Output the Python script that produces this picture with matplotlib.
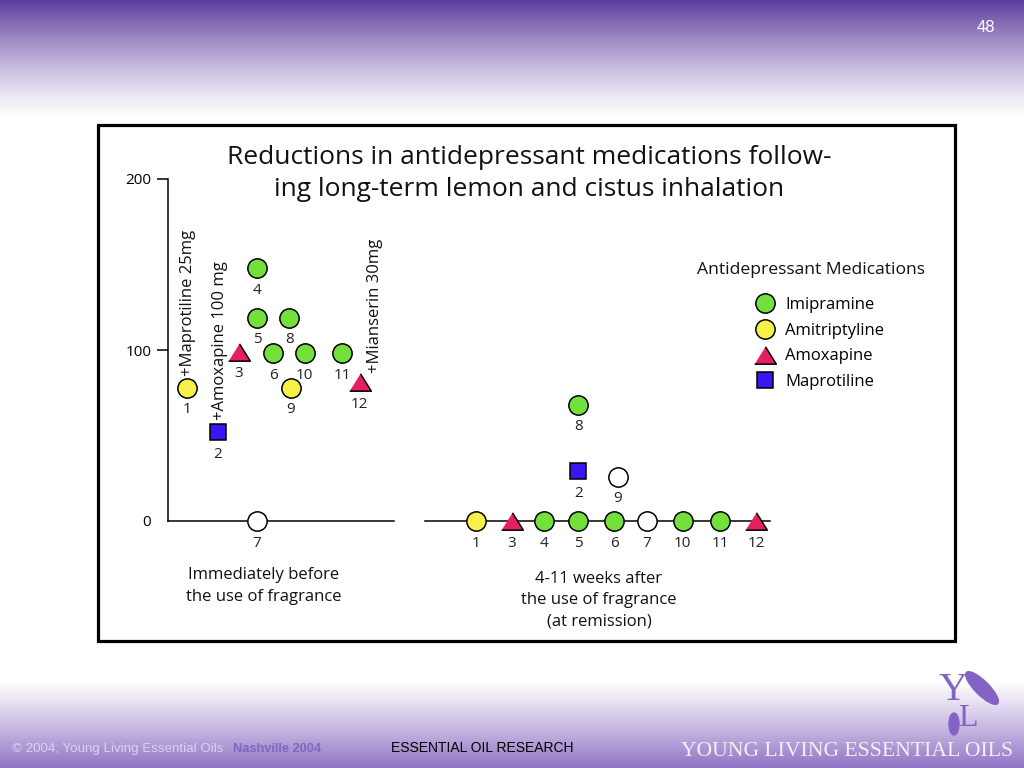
import matplotlib
matplotlib.use("Agg")
import matplotlib.pyplot as plt
import numpy as np
from matplotlib.lines import Line2D
from matplotlib.patches import Rectangle, Ellipse

plt.rcParams["font.family"] = ["Open Sans", "DejaVu Sans"]

W, H = 1024, 768

# patients 1..12, dose in mg, horizontal slot inside each panel
patients = [1, 2, 3, 4, 5, 6, 7, 8, 9, 10, 11, 12]
before_slot = [1.1, 2.9, 4.15, 5.2, 5.2, 6.15, 5.2, 7.1, 7.2, 8.0, 10.2, 11.2]
before_dose = [78, 52, 99, 148, 119, 98, 0, 119, 78, 98, 98, 81]
before_drug = ["Amitriptyline", "Maprotiline", "Amoxapine", "Imipramine", "Imipramine",
               "Imipramine", "none", "Imipramine", "Amitriptyline", "Imipramine",
               "Imipramine", "Amoxapine"]
after_slot = [18.0, 24.0, 20.1, 22.0, 24.0, 26.1, 28.0, 24.0, 26.3, 30.1, 32.3, 34.4]
after_dose = [0, 29, 0, 0, 0, 0, 0, 68, 26, 0, 0, 0]
after_drug = ["Amitriptyline", "Maprotiline", "Amoxapine", "Imipramine", "Imipramine",
              "Imipramine", "none", "Imipramine", "none", "Imipramine",
              "Imipramine", "Amoxapine"]

drug_names = ["Imipramine", "Amitriptyline", "Amoxapine", "Maprotiline"]
dose_ticks = [0, 100, 200]

add_on_notes = {1: "+Maprotiline 25mg", 2: "+Amoxapine 100 mg", 12: "+Mianserin 30mg"}

TRI = [(-1, -0.8), (1, -0.8), (0, 0.8)]
STYLE = {
    "Imipramine": dict(marker="o", mfc="#74e03c", ms=13.9),
    "Amitriptyline": dict(marker="o", mfc="#f8f04a", ms=13.9),
    "Amoxapine": dict(marker=TRI, mfc="#e4205e", ms=15.6),
    "Maprotiline": dict(marker="s", mfc="#3a16f2", ms=12.2),
    "none": dict(marker="o", mfc="white", ms=13.9),
}

PX_SLOT = 17.1   # px per slot unit
PX_MG = 1.71     # px per mg
X0, Y0 = 168, 521  # pixel origin of the chart

fig = plt.figure(figsize=(W / 100, H / 100), dpi=100)

# ---- slide background ----
bg = fig.add_axes([0, 0, 1, 1])
bg.set_xlim(0, W)
bg.set_ylim(H, 0)
bg.axis("off")
rows = np.arange(H)
top = np.clip(1 - rows / 120, 0, 1) ** 1.3
bot = np.clip((rows - 680) / 88, 0, 1) ** 1.1
purple_top = np.array([0.37, 0.24, 0.62])
purple_bot = np.array([0.56, 0.45, 0.77])
grad = 1 - top[:, None] * (1 - purple_top) - bot[:, None] * (1 - purple_bot)
grad = np.repeat(grad[:, None, :], 2, axis=1)
bg.imshow(grad, extent=(0, W, H, 0), aspect="auto", zorder=0)

bg.add_patch(Rectangle((98, 125), 857, 516, facecolor="white", edgecolor="black",
                       linewidth=2.3, zorder=1))

bg.text(986, 27, "48", color="white", fontsize=12, ha="center", va="center",
        family="Liberation Sans")
bg.text(12, 749, "\u00a9 2004, Young Living Essential Oils", color="#dcd2f0", fontsize=9.6,
        ha="left", va="center", family="Liberation Sans")
bg.text(233, 749, "Nashville 2004", color="#8066bd", fontsize=9.2, fontweight="bold",
        ha="left", va="center", family="Liberation Sans")
bg.text(482, 748, "ESSENTIAL OIL RESEARCH", color="black", fontsize=10,
        ha="center", va="center", family="Liberation Sans")
bg.text(847, 751, "YOUNG LIVING ESSENTIAL OILS", color="#f4effb", fontsize=15.6,
        ha="center", va="center", family="Liberation Serif")
# logo
bg.text(953, 690, "Y", color="#8463c4", fontsize=29, ha="center", va="center",
        family="Liberation Serif")
bg.text(968, 718, "L", color="#8463c4", fontsize=23, ha="center", va="center",
        family="Liberation Serif")
bg.add_patch(Ellipse((982, 688), 14, 44, angle=-45, color="#8463c4", zorder=2))
bg.add_patch(Ellipse((954, 724), 10, 22, angle=0, color="#8463c4", zorder=2))

# ---- chart ----
ax = fig.add_axes([100 / W, (H - 636) / H, 853 / W, 506 / H])
ax.patch.set_alpha(0)
ax.set_xlim((100 - X0) / PX_SLOT, (953 - X0) / PX_SLOT)
ax.set_ylim((Y0 - 636) / PX_MG, (Y0 - 130) / PX_MG)
for side in ["top", "right", "bottom"]:
    ax.spines[side].set_visible(False)
ax.spines["left"].set_position(("data", 0))
ax.spines["left"].set_bounds(0, 200)
ax.spines["left"].set_linewidth(1.1)
ax.set_xticks([])
ax.set_yticks(dose_ticks)
ax.set_yticklabels([str(t) for t in dose_ticks], fontsize=11)
ax.tick_params(axis="y", direction="out", length=8, width=1.1, pad=4)
ax.yaxis.get_major_ticks()[0].tick1line.set_visible(False)

ax.plot([0, 13.2], [0, 0], color="black", lw=1.1, zorder=1)
ax.plot([15.0, 35.2], [0, 0], color="black", lw=1.1, zorder=1)


def draw_panel(slots, doses, drugs):
    slots = np.array(slots)
    doses = np.array(doses)
    drugs = np.array(drugs)
    for name, st in STYLE.items():
        m = drugs == name
        if m.any():
            ax.plot(slots[m], doses[m], ls="", marker=st["marker"], ms=st["ms"],
                    mfc=st["mfc"], mec="black", mew=1.1, zorder=3)
    for pid, x, y in zip(patients, slots, doses):
        ax.annotate(str(pid), (x, y), xytext=(0, -16), textcoords="offset points",
                    ha="center", va="center", fontsize=11, color="#222222")


draw_panel(before_slot, before_dose, before_drug)
draw_panel(after_slot, after_dose, after_drug)

note_offsets = {1: (0.5, 8.6), 2: (1.4, 8.6), 12: (11.5, 6.5)}
for pid, note in add_on_notes.items():
    i = patients.index(pid)
    ax.annotate(note, (before_slot[i], before_dose[i]), xytext=note_offsets[pid],
                textcoords="offset points", rotation=90, ha="center", va="bottom",
                fontsize=12, color="#111111")

ax.text(5.6, -27.0, "Immediately before\nthe use of fragrance", ha="center", va="top",
        fontsize=12, linespacing=1.45, color="#111111")
ax.text(25.2, -29.0, "4-11 weeks after\nthe use of fragrance\n(at remission)", ha="center",
        va="top", fontsize=12, linespacing=1.45, color="#111111")

fig.text(529 / W, 1 - 157 / H, "Reductions in antidepressant medications follow-",
         ha="center", va="center", fontsize=19, color="#111111")
fig.text(529 / W, 1 - 190 / H, "ing long-term lemon and cistus inhalation",
         ha="center", va="center", fontsize=19, color="#111111")

# ---- legend ----
handles = [Line2D([], [], ls="", marker=STYLE[d]["marker"], ms=STYLE[d]["ms"],
                  mfc=STYLE[d]["mfc"], mec="black", mew=1.1) for d in drug_names]
ax.legend(handles, drug_names, loc="upper left", bbox_to_anchor=(752 / W, 1 - 297 / H),
          bbox_transform=fig.transFigure, frameon=False, fontsize=12, handlelength=1.5,
          handletextpad=0.5, labelspacing=0.58, borderpad=0, borderaxespad=0)
fig.text(697 / W, 1 - 270 / H, "Antidepressant Medications", ha="left", va="center",
         fontsize=12.6, color="#111111")

fig.savefig("out.png", dpi=100)
